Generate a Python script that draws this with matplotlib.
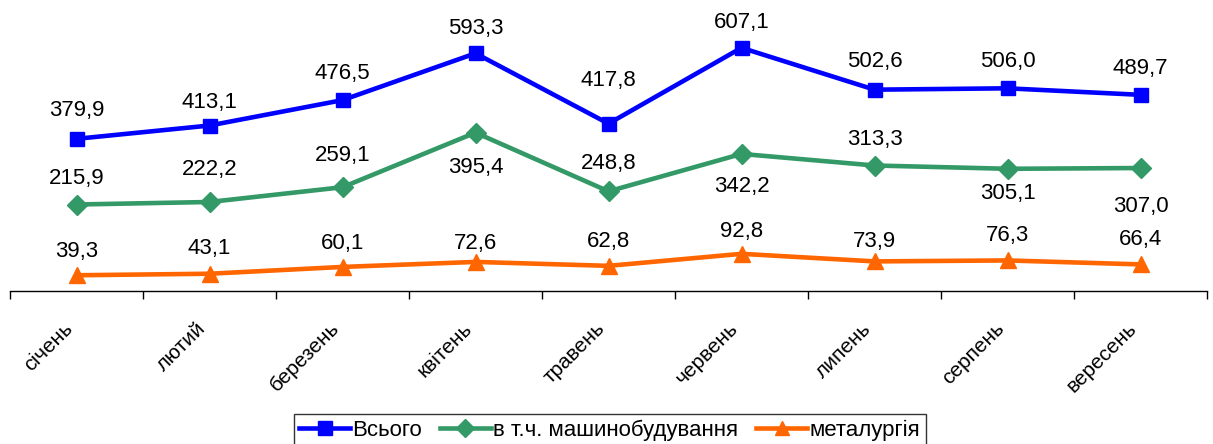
import matplotlib
matplotlib.use("Agg")
import matplotlib.pyplot as plt
from matplotlib.ticker import FixedLocator

plt.rcParams['font.family'] = ['Liberation Sans', 'DejaVu Sans']

months = ["січень", "лютий", "березень", "квітень", "травень",
          "червень", "липень", "серпень", "вересень"]
total = [379.9, 413.1, 476.5, 593.3, 417.8, 607.1, 502.6, 506.0, 489.7]
machine = [215.9, 222.2, 259.1, 395.4, 248.8, 342.2, 313.3, 305.1, 307.0]
metal = [39.3, 43.1, 60.1, 72.6, 62.8, 92.8, 73.9, 76.3, 66.4]

series_names = ["Всього", "в т.ч. машинобудування", "металургія"]

# label offsets in pixels (positive = up)
off_total = [28, 23, 27, 25, 43, 25, 28, 27, 26]
off_machine = [26, 32, 32, -35, 28, -33, 26, -25, -38]
off_metal = [24, 25, 23, 18, 24, 22, 20, 25, 25]

W, H = 1213, 444
fig = plt.figure(figsize=(W / 100, H / 100), dpi=100)
ax = fig.add_axes([10 / W, 153 / H, 1197 / W, 280.4 / H])

x = list(range(len(months)))
styles = [
    dict(color="#0000FF", marker="s", ms=10.5),
    dict(color="#339966", marker="D", ms=10),
    dict(color="#FF6600", marker="^", ms=11),
]
handles = []
for vals, offs, st, name in zip([total, machine, metal],
                                [off_total, off_machine, off_metal],
                                styles, series_names):
    h, = ax.plot(x, vals, lw=3.3, color=st["color"], marker=st["marker"],
                 ms=st["ms"], mec=st["color"], mfc=st["color"], label=name,
                 clip_on=False, zorder=3)
    handles.append(h)
    for xi, v, o in zip(x, vals, offs):
        ax.annotate(f"{v:.1f}".replace(".", ","), (xi, v),
                    xytext=(0, o), textcoords="offset pixels",
                    ha="center", va="center", fontsize=16, color="black")

ax.set_xlim(-0.5, len(months) - 0.5)
ax.set_ylim(0, 700)
for s in ["top", "right", "left"]:
    ax.spines[s].set_visible(False)
ax.spines["bottom"].set_linewidth(1)
ax.set_yticks([])
ax.xaxis.set_major_locator(FixedLocator([i - 0.5 for i in range(len(months) + 1)]))
ax.set_xticklabels([])
ax.xaxis.set_minor_locator(FixedLocator(x))
ax.set_xticks(x, minor=True)
ax.set_xticklabels(months, minor=True, rotation=45, ha="right", va="top",
                   fontsize=15, rotation_mode="default")
ax.tick_params(axis="x", which="major", length=6, direction="out", width=1)
ax.tick_params(axis="x", which="minor", length=0, pad=20)

leg = fig.legend(handles=handles, loc="lower center", bbox_to_anchor=(0.5025, -0.005),
                 ncol=3, fontsize=16, frameon=True, fancybox=False,
                 edgecolor="black", handlelength=2.3, handletextpad=0.1,
                 columnspacing=0.8, borderpad=0.25, borderaxespad=0,
                 markerscale=0.9)
leg.get_frame().set_linewidth(1)

fig.savefig("out.png", dpi=100)
